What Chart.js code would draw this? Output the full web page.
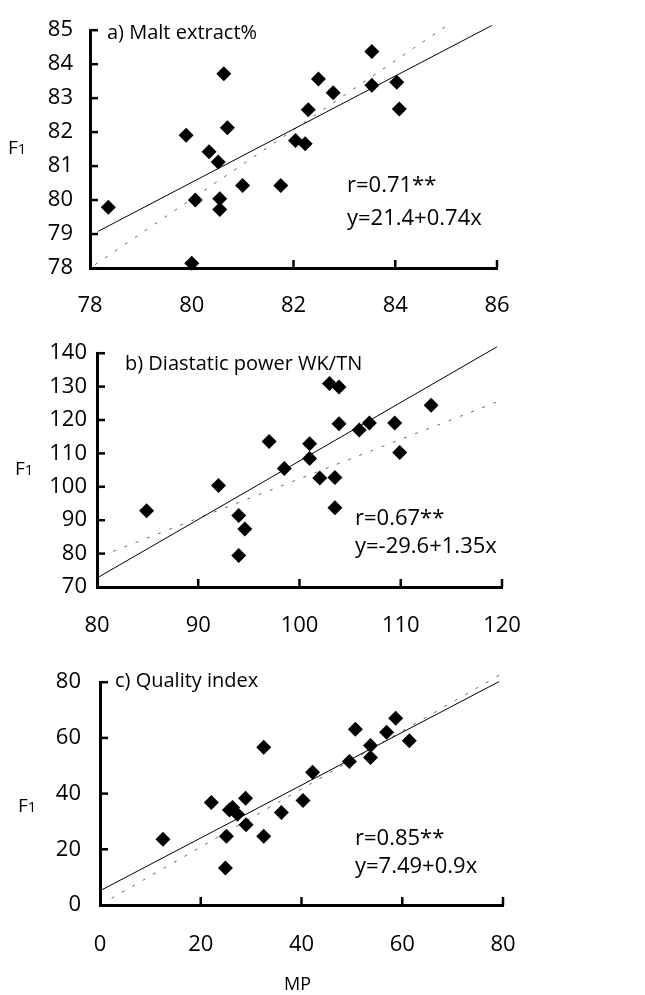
<!DOCTYPE html>
<html>
<head>
<meta charset="utf-8">
<script src="https://cdn.jsdelivr.net/npm/chart.js@4/dist/chart.umd.min.js"></script>
<style>
  body { margin: 0; background: #fff; width: 645px; height: 995px; position: relative; overflow: hidden; font-family: "Open Sans", sans-serif; }
  .panel { position: absolute; left: 0; width: 645px; }
  .txt { position: absolute; line-height: 1; color: #000; white-space: nowrap; }
  .ttl { font-size: 20px; }
  .eq { font-size: 22px; }
  .f1 { font-size: 19px; }
  .f1 span { font-size: 15px; }
  .mp { font-size: 18px; }
</style>
</head>
<body>
<div class="panel" style="top:0;height:330px"><canvas id="chartA"></canvas></div>
<div class="panel" style="top:330px;height:320px"><canvas id="chartB"></canvas></div>
<div class="panel" style="top:650px;height:345px"><canvas id="chartC"></canvas></div>

<div class="txt ttl" style="left:107px;top:22px">a) Malt extract%</div>
<div class="txt eq" style="left:347px;top:172px">r=0.71**</div>
<div class="txt eq" style="left:347px;top:205px">y=21.4+0.74x</div>
<div class="txt f1" style="left:8px;top:138px">F<span>1</span></div>

<div class="txt ttl" style="left:125px;top:353px">b) Diastatic power WK/TN</div>
<div class="txt eq" style="left:355px;top:505px">r=0.67**</div>
<div class="txt eq" style="left:355px;top:533px">y=-29.6+1.35x</div>
<div class="txt f1" style="left:15px;top:459px">F<span>1</span></div>

<div class="txt ttl" style="left:115px;top:670px">c) Quality index</div>
<div class="txt eq" style="left:355px;top:825px">r=0.85**</div>
<div class="txt eq" style="left:355px;top:853px">y=7.49+0.9x</div>
<div class="txt f1" style="left:18px;top:796px">F<span>1</span></div>

<div class="txt mp" style="left:284px;top:974px">MP</div>

<script>
// a) malt extract
const maltX = [78.36, 79.89, 80.07, 80.0, 80.34, 80.52, 80.55, 80.55, 80.63, 80.70, 81.0,
  81.75, 82.04, 82.23, 82.29, 82.49, 82.78, 83.54, 83.54, 84.03, 84.08];
const maltY = [79.79, 81.91, 80.0, 78.14, 81.42, 81.12, 80.04, 79.72, 83.72, 82.13, 80.43,
  80.43, 81.75, 81.66, 82.66, 83.56, 83.16, 84.37, 83.38, 83.47, 82.68];
const maltFitX = [78.16, 85.9];
const maltFitY = [79.08, 85.14];
const maltDashX = [78.1, 84.98];
const maltDashY = [78.1, 85.1];

// b) diastatic power
const dpX = [84.9, 92.0, 94.0, 94.6, 94.0, 97.0, 98.5, 101.0, 101.0, 102.0, 102.96,
  103.9, 103.5, 103.5, 103.9, 105.9, 106.9, 109.4, 109.9, 113.0];
const dpY = [92.8, 100.4, 91.4, 87.4, 79.4, 113.6, 105.5, 112.9, 108.5, 102.6, 130.9,
  129.9, 102.8, 93.7, 118.9, 117.0, 119.1, 119.1, 110.3, 124.4];
const dpFitX = [80, 119.5];
const dpFitY = [72.7, 141.9];
const dpDashX = [81.6, 119.5];
const dpDashY = [80.7, 125.4];

// c) quality index
const qiX = [12.5, 22.1, 25.1, 24.9, 25.7, 26.3, 27.3, 28.9, 29.0, 32.5, 32.5,
  36.0, 40.3, 42.2, 49.5, 50.7, 53.7, 53.7, 56.9, 58.7, 61.4];
const qiY = [23.6, 36.8, 24.7, 13.3, 34.1, 35.0, 32.6, 38.3, 28.8, 56.6, 24.7,
  33.2, 37.5, 47.7, 51.5, 63.1, 57.3, 53.0, 62.0, 67.1, 59.0];
const qiFitX = [0, 79.2];
const qiFitY = [5.1, 80.2];
const qiDashX = [2.3, 79.9];
const qiDashY = [2.4, 83.2];

function pts(xs, ys) {
  return xs.map((x, i) => ({x: x, y: ys[i]}));
}

// inward tick marks, drawn from the scales' own ticks
const inwardTicks = {
  id: 'inwardTicks',
  afterDraw(chart) {
    const ctx = chart.ctx;
    const a = chart.chartArea;
    ctx.save();
    ctx.strokeStyle = '#000';
    ctx.lineWidth = 2.5;
    chart.scales.x.ticks.forEach((t, i) => {
      const px = chart.scales.x.getPixelForTick(i);
      if (px - a.left < 2) return;
      ctx.beginPath();
      ctx.moveTo(px, a.bottom);
      ctx.lineTo(px, a.bottom - 8);
      ctx.stroke();
    });
    chart.scales.y.ticks.forEach((t, i) => {
      const py = chart.scales.y.getPixelForTick(i);
      if (a.bottom - py < 2) return;
      ctx.beginPath();
      ctx.moveTo(a.left, py);
      ctx.lineTo(a.left + 8, py);
      ctx.stroke();
    });
    ctx.restore();
  }
};

function makeChart(id, cfg) {
  return new Chart(document.getElementById(id), {
    type: 'scatter',
    data: {
      datasets: [
        {
          data: pts(cfg.xs, cfg.ys),
          pointStyle: 'rectRot',
          pointRadius: 7.5,
          pointHoverRadius: 7.5,
          backgroundColor: '#000',
          borderColor: '#000',
          borderWidth: 0,
          clip: false
        },
        {
          type: 'line',
          data: pts(cfg.fitX, cfg.fitY),
          borderColor: '#000',
          borderWidth: 1,
          pointRadius: 0,
          fill: false,
          clip: false
        },
        {
          type: 'line',
          data: pts(cfg.dashX, cfg.dashY),
          borderColor: '#666',
          borderWidth: 1,
          borderDash: [3, 9],
          pointRadius: 0,
          fill: false,
          clip: false
        }
      ]
    },
    options: {
      responsive: true,
      maintainAspectRatio: false,
      animation: false,
      events: [],
      layout: { padding: { top: cfg.padTop, right: cfg.padRight, left: 0, bottom: 0 } },
      plugins: { legend: { display: false }, tooltip: { enabled: false } },
      scales: {
        x: {
          type: 'linear',
          min: cfg.xMin, max: cfg.xMax,
          afterFit: s => { s.height = cfg.xAxisH; },
          grid: { display: false, drawTicks: false },
          border: { display: true, color: '#000', width: 3 },
          ticks: { stepSize: cfg.xStep, padding: cfg.xPad, color: '#000',
                   font: { family: 'Open Sans', size: 22 } }
        },
        y: {
          type: 'linear',
          min: cfg.yMin, max: cfg.yMax,
          afterFit: s => { s.width = cfg.yAxisW; },
          grid: { display: false, drawTicks: false },
          border: { display: true, color: '#000', width: 3 },
          ticks: { stepSize: cfg.yStep, padding: cfg.yPad, color: '#000',
                   font: { family: 'Open Sans', size: 22 } }
        }
      }
    },
    plugins: [inwardTicks]
  });
}

makeChart('chartA', {
  xs: maltX, ys: maltY, fitX: maltFitX, fitY: maltFitY, dashX: maltDashX, dashY: maltDashY,
  xMin: 78, xMax: 86, xStep: 2, yMin: 78, yMax: 85, yStep: 1,
  padTop: 17, padRight: 148, xAxisH: 62, yAxisW: 90, xPad: 25, yPad: 17
});

makeChart('chartB', {
  xs: dpX, ys: dpY, fitX: dpFitX, fitY: dpFitY, dashX: dpDashX, dashY: dpDashY,
  xMin: 80, xMax: 120, xStep: 10, yMin: 70, yMax: 140, yStep: 10,
  padTop: 13, padRight: 143, xAxisH: 63, yAxisW: 97, xPad: 26, yPad: 10
});

makeChart('chartC', {
  xs: qiX, ys: qiY, fitX: qiFitX, fitY: qiFitY, dashX: qiDashX, dashY: qiDashY,
  xMin: 0, xMax: 80, xStep: 20, yMin: 0, yMax: 80, yStep: 20,
  padTop: 10, padRight: 142, xAxisH: 90, yAxisW: 100, xPad: 27, yPad: 19
});
</script>
</body>
</html>
